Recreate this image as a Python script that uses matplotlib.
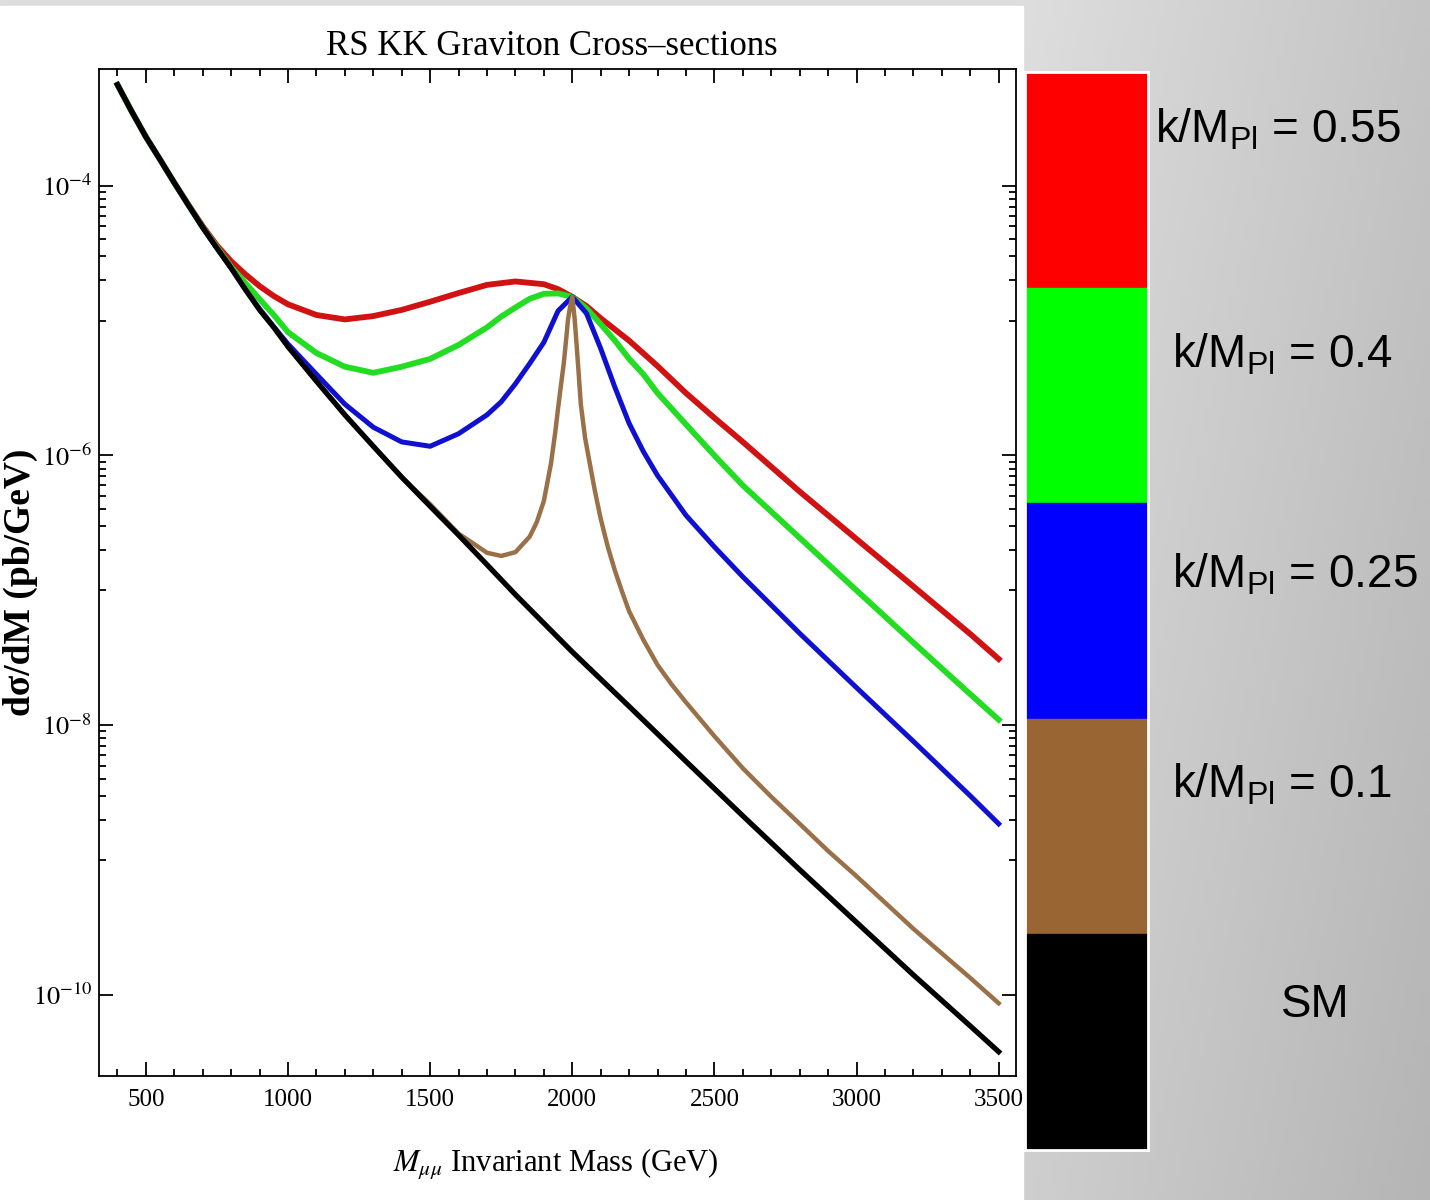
import numpy as np
import matplotlib
matplotlib.use("Agg")
import matplotlib.pyplot as plt
from matplotlib.patches import Rectangle
from matplotlib.ticker import FixedLocator, NullFormatter

W, H = 1430, 1200

# values: invariant mass (GeV) and dsigma/dM (pb/GeV)
m_sm = [400, 450, 500, 550, 600, 650, 700, 750, 800, 850, 900, 950, 1000, 1100, 1200,
        1300, 1400, 1500, 1600, 1700, 1800, 2000, 2200, 2400, 2600, 2800, 3000, 3200,
        3400, 3500]
sm = [5.6e-4, 3.55e-4, 2.3e-4, 1.56e-4, 1.05e-4, 7.15e-5, 4.9e-5, 3.44e-5, 2.45e-5,
      1.7e-5, 1.2e-5, 8.9e-6, 6.4e-6, 3.55e-6, 2.0e-6, 1.17e-6, 6.9e-7, 4.2e-7, 2.57e-7,
      1.55e-7, 9.3e-8, 3.5e-8, 1.38e-8, 5.4e-9, 2.13e-9, 8.5e-10, 3.46e-10, 1.41e-10,
      5.9e-11, 3.8e-11]

m_red = [400, 450, 500, 550, 600, 650, 700, 750, 800, 850, 900, 950, 1000, 1100, 1200,
         1300, 1400, 1500, 1600, 1700, 1800, 1900, 1950, 2000, 2050, 2100, 2200, 2300,
         2400, 2500, 2600, 2800, 3000, 3200, 3400, 3500]
red = [5.6e-4, 3.55e-4, 2.3e-4, 1.56e-4, 1.05e-4, 7.2e-5, 5.0e-5, 3.6e-5, 2.75e-5,
       2.2e-5, 1.8e-5, 1.52e-5, 1.32e-5, 1.1e-5, 1.02e-5, 1.08e-5, 1.2e-5, 1.38e-5,
       1.6e-5, 1.84e-5, 1.95e-5, 1.86e-5, 1.71e-5, 1.5e-5, 1.28e-5, 1.04e-5, 7.1e-6,
       4.6e-6, 2.9e-6, 1.9e-6, 1.26e-6, 5.4e-7, 2.4e-7, 1.07e-7, 4.75e-8, 3.1e-8]

m_green = [400, 450, 500, 550, 600, 650, 700, 750, 800, 850, 900, 950, 1000, 1100, 1200,
           1300, 1400, 1500, 1600, 1700, 1750, 1800, 1850, 1900, 1950, 2000, 2050, 2100,
           2150, 2200, 2250, 2300, 2400, 2500, 2600, 2800, 3000, 3200, 3400, 3500]
green = [5.6e-4, 3.55e-4, 2.3e-4, 1.56e-4, 1.05e-4, 7.15e-5, 4.9e-5, 3.5e-5, 2.5e-5,
         1.9e-5, 1.44e-5, 1.1e-5, 8.2e-6, 5.75e-6, 4.55e-6, 4.1e-6, 4.55e-6, 5.2e-6,
         6.6e-6, 8.9e-6, 1.07e-5, 1.25e-5, 1.45e-5, 1.58e-5, 1.59e-5, 1.5e-5, 1.23e-5,
         9.4e-6, 7.1e-6, 5.2e-6, 4.0e-6, 2.9e-6, 1.7e-6, 1.0e-6, 6.0e-7, 2.45e-7, 1.0e-7,
         4.1e-8, 1.7e-8, 1.1e-8]

m_blue = [400, 450, 500, 550, 600, 650, 700, 750, 800, 850, 900, 950, 1000, 1100, 1200,
          1300, 1400, 1500, 1600, 1700, 1750, 1800, 1850, 1900, 1950, 2000, 2050, 2100,
          2150, 2200, 2250, 2300, 2400, 2500, 2600, 2800, 3000, 3200, 3400, 3500]
blue = [5.6e-4, 3.55e-4, 2.3e-4, 1.56e-4, 1.05e-4, 7.15e-5, 4.9e-5, 3.44e-5, 2.45e-5,
        1.7e-5, 1.22e-5, 9.0e-6, 6.7e-6, 4.0e-6, 2.4e-6, 1.62e-6, 1.26e-6, 1.17e-6,
        1.45e-6, 2.0e-6, 2.5e-6, 3.4e-6, 4.8e-6, 6.9e-6, 1.18e-5, 1.5e-5, 1.13e-5, 6.2e-6,
        3.2e-6, 1.73e-6, 1.07e-6, 7.1e-7, 3.6e-7, 2.1e-7, 1.26e-7, 4.8e-8, 1.9e-8, 7.6e-9,
        3.0e-9, 1.86e-9]

m_brown = [400, 450, 500, 550, 600, 650, 700, 750, 800, 850, 900, 950, 1000, 1100, 1200,
           1300, 1400, 1500, 1600, 1650, 1700, 1750, 1800, 1850, 1875, 1900, 1925, 1940,
           1950, 1960, 1970, 1978, 1985, 1992, 2000, 2008, 2015, 2022, 2030, 2045, 2060,
           2080, 2100, 2125, 2150, 2175, 2200, 2250, 2300, 2350, 2400, 2500, 2600, 2700,
           2800, 2900, 3000, 3200, 3400, 3500]
brown = [5.6e-4, 3.55e-4, 2.3e-4, 1.56e-4, 1.05e-4, 7.15e-5, 4.9e-5, 3.44e-5, 2.45e-5,
         1.7e-5, 1.2e-5, 8.9e-6, 6.4e-6, 3.55e-6, 2.0e-6, 1.17e-6, 6.9e-7, 4.35e-7,
         2.63e-7, 2.24e-7, 1.9e-7, 1.8e-7, 1.92e-7, 2.5e-7, 3.2e-7, 4.6e-7, 8.7e-7,
         1.48e-6, 2.24e-6, 3.3e-6, 4.8e-6, 7.1e-6, 1.02e-5, 1.26e-5, 1.5e-5, 1.05e-5,
         6.7e-6, 4.2e-6, 2.4e-6, 1.35e-6, 9.1e-7, 5.4e-7, 3.4e-7, 2.1e-7, 1.4e-7, 9.8e-8,
         7.0e-8, 4.3e-8, 2.8e-8, 2.0e-8, 1.48e-8, 8.3e-9, 4.8e-9, 2.95e-9, 1.86e-9,
         1.17e-9, 7.6e-10, 3.1e-10, 1.34e-10, 8.7e-11]

key_labels = [r"k/M$_{\mathrm{Pl}}$ = 0.55", r"k/M$_{\mathrm{Pl}}$ = 0.4",
              r"k/M$_{\mathrm{Pl}}$ = 0.25", r"k/M$_{\mathrm{Pl}}$ = 0.1", "SM"]
key_colors = ["#ff0000", "#00ff00", "#0000ff", "#996633", "#000000"]

x_major = [500, 1000, 1500, 2000, 2500, 3000, 3500]
y_major = [1e-4, 1e-6, 1e-8, 1e-10]
y_major_labels = [r"$10^{-4}$", r"$10^{-6}$", r"$10^{-8}$", r"$10^{-10}$"]

plt.rcParams["mathtext.fontset"] = "custom"
plt.rcParams["mathtext.rm"] = "Liberation Sans"
plt.rcParams["mathtext.it"] = "Liberation Sans:italic"

fig = plt.figure(figsize=(W / 100, H / 100), dpi=100)

# grey slide background with white panel for the plot
bg = fig.add_axes([0, 0, 1, 1], zorder=-10)
xs = np.linspace(0, W, 300)
ys = np.linspace(0, H, 300)
xx, yy = np.meshgrid(xs, ys)
shade = 0.87 - 0.10 * np.clip((xx - 1025) / 405, 0, 1) - 0.06 * yy / H
bg.imshow(np.dstack([shade] * 3), extent=[0, W, H, 0], aspect="auto")
bg.add_patch(Rectangle((0, 6), 1023, H - 6, color="white"))
bg.set_xlim(0, W)
bg.set_ylim(H, 0)
bg.axis("off")

ax = fig.add_axes([99 / W, 1 - 1076 / H, (1016 - 99) / W, (1076 - 69) / H])
ax.plot(m_red, red, color="#d01212", lw=4.2, solid_joinstyle="round")
ax.plot(m_green, green, color="#22dd22", lw=4.2, solid_joinstyle="round")
ax.plot(m_blue, blue, color="#1010d0", lw=3.6, solid_joinstyle="round")
ax.plot(m_brown, brown, color="#9a7048", lw=3.2, solid_joinstyle="round")
ax.plot(m_sm, sm, color="black", lw=3.8, solid_joinstyle="round")

ax.set_yscale("log")
ax.set_xlim(335, 3561)
ax.set_ylim(10 ** -10.6, 10 ** -3.135)

ax.set_xticks(x_major, labels=[str(v) for v in x_major])
ax.xaxis.set_minor_locator(FixedLocator(np.arange(400, 3600, 100)))
ax.set_yticks(y_major, labels=y_major_labels)
minor_y = [m * 10.0 ** e for e in (-5, -7, -9) for m in range(1, 10)]
ax.yaxis.set_minor_locator(FixedLocator(minor_y))
ax.yaxis.set_minor_formatter(NullFormatter())

ax.tick_params(which="both", direction="in", top=True, right=True, width=1.3)
ax.tick_params(which="major", length=10)
ax.tick_params(which="minor", length=5)
ax.tick_params(axis="x", pad=9)
ax.tick_params(axis="y", pad=5)
for lab in ax.get_xticklabels():
    lab.set_fontfamily("Liberation Serif")
    lab.set_fontsize(18)
for lab in ax.get_yticklabels():
    lab.set_math_fontfamily("stix")
    lab.set_fontsize(19)
for sp in ax.spines.values():
    sp.set_linewidth(1.3)

fig.text(552 / W, 1 - 55 / H, "RS KK Graviton Cross\u2013sections", ha="center",
         va="baseline", fontsize=25, family="Liberation Serif")
fig.text(556 / W, 1 - 1165 / H, r"$M_{\mu\mu}$ Invariant Mass (GeV)", ha="center",
         va="center", fontsize=22, family="Liberation Serif", math_fontfamily="stix")
fig.text(20 / W, 1 - 582 / H, "d\u03c3/dM (pb/GeV)", rotation=90, ha="center",
         va="center", fontsize=27, family="Liberation Serif", weight="bold")

# colour key
lax = fig.add_axes([1025 / W, 1 - 1150 / H, 123 / W, 1078 / H])
for i, c in enumerate(key_colors):
    lax.axhspan(i, i + 1, color=c)
lax.set_ylim(len(key_colors), 0)
lax.set_xlim(0, 1)
lax.set_xticks([])
lax.set_yticks([])
for sp in lax.spines.values():
    sp.set_color("white")
    sp.set_linewidth(2)

label_pos = [(1155, 130, "left"), (1172, 355, "left"), (1172, 575, "left"),
             (1172, 785, "left"), (1315, 1005, "center")]
for (px, py, ha), lab in zip(label_pos, key_labels):
    fig.text(px / W, 1 - py / H, lab, ha=ha, va="center", fontsize=33,
             family="Liberation Sans", math_fontfamily="custom")

fig.savefig("out.png", dpi=100)
